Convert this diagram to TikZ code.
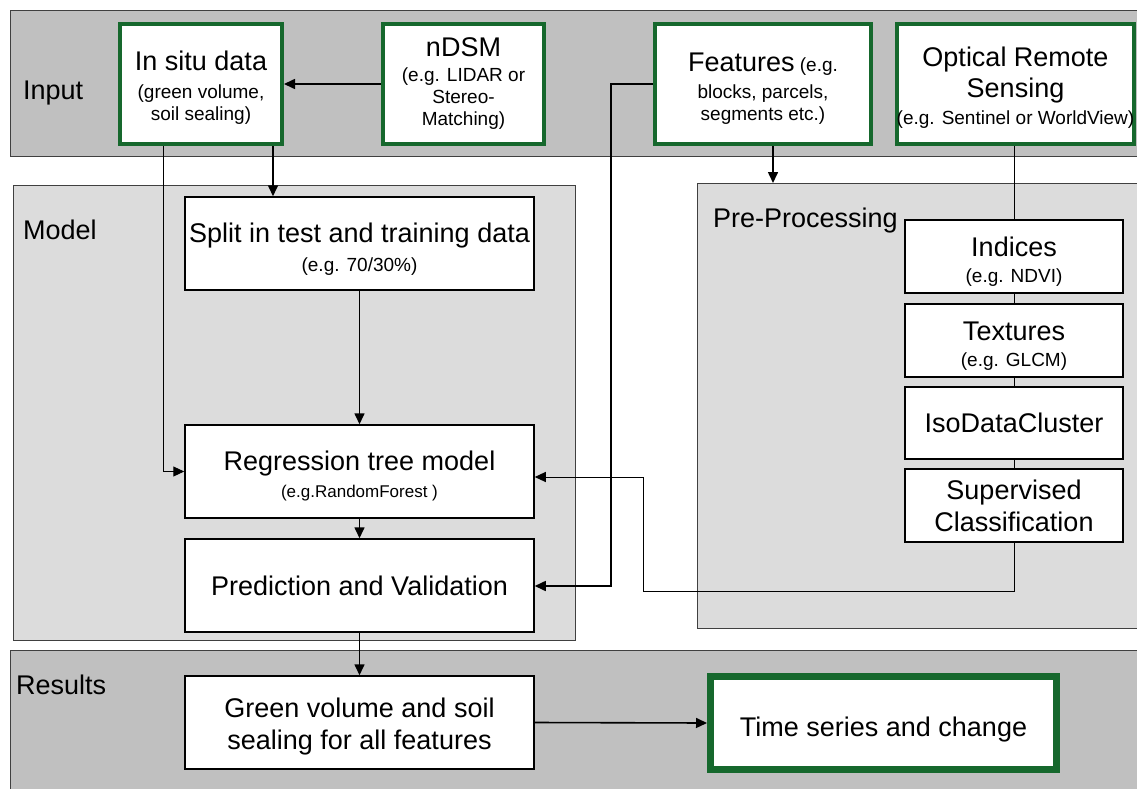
\documentclass[tikz,border=0pt]{standalone}
\usepackage{fontspec}
\setmainfont{Liberation Sans}
\usetikzlibrary{arrows.meta,calc}
\definecolor{grn}{RGB}{22,104,45}
\definecolor{bandA}{RGB}{192,192,192}
\definecolor{bandB}{RGB}{220,220,220}
\newcommand{\bigf}{\fontsize{27}{32}\selectfont}
\newcommand{\smf}{\fontsize{19}{22}\selectfont}
\newcommand{\lift}[1]{\rule{0pt}{#1pt}}
\begin{document}
\begin{tikzpicture}[x=1pt,y=-1pt,
  band/.style={draw=black!75, line width=1pt, anchor=north west, inner sep=0pt},
  greenbox/.style={draw=grn, line width=4pt, fill=white, align=center, inner sep=0pt, font=\smf},
  plainbox/.style={draw=black, line width=1.5pt, fill=white, align=center, inner sep=0pt, font=\smf},
  arr/.style={line width=1.6pt, -{Triangle[length=11pt,width=10pt]}},
  thinarr/.style={line width=1pt, -{Triangle[length=11pt,width=10pt]}},
  thinline/.style={line width=1pt},
  lbl/.style={anchor=west, font=\bigf, inner sep=0pt}]
\useasboundingbox (0,0) rectangle (1137,789);
\fill[white] (0,0) rectangle (1137,789);
% bands
\node[band, fill=bandA, minimum width=1140pt, minimum height=146pt] (inputband) at (10,10) {};
\node[band, fill=bandB, minimum width=562pt, minimum height=455pt] (modelband) at (13,185) {};
\node[band, fill=bandB, minimum width=450pt, minimum height=445pt] (preproc) at (697,183) {};
\node[band, fill=bandA, minimum width=1140pt, minimum height=150pt] (resultsband) at (10,650) {};
% band labels
\node[lbl] (inputlbl) at (23,93) {Input};
\node[lbl] (modellbl) at (23,230) {Model};
\node[lbl] (prelbl) at (713,221) {Pre-Processing};
\node[lbl] (reslbl) at (16,685) {Results};
% input boxes
\node[greenbox, minimum width=162pt, minimum height=120pt] (insitu) at (201,84)
  {{\bigf\lift{26}In situ data}\\[6pt](green volume,\\soil sealing)};
\node[greenbox, minimum width=161pt, minimum height=120pt] (ndsm) at (463.5,84)
  {{\bigf nDSM}\\[3pt](e.g. LIDAR or\\Stereo-\\Matching)};
\node[greenbox, minimum width=216pt, minimum height=120pt] (features) at (763,84)
  {{\bigf\lift{27}Features} (e.g.\\[5pt]blocks, parcels,\\segments etc.)};
\node[greenbox, minimum width=233pt, minimum height=120pt] (optical) at (1015.5,84)
  {{\bigf\lift{27}Optical Remote}\\[4pt]{\bigf Sensing}\\[5pt](e.g. Sentinel or WorldView)};
% model boxes
\node[plainbox, minimum width=349pt, minimum height=93pt] (split) at (359.5,243.5)
  {{\bigf\lift{30}Split in test and training data}\\[7pt](e.g. 70/30\%)};
\node[plainbox, minimum width=349pt, minimum height=93pt] (regression) at (359.5,471.5)
  {{\bigf\lift{28}Regression tree model}\\[5pt]{\fontsize{17}{20}\selectfont (e.g.RandomForest )}};
\node[plainbox, minimum width=349pt, minimum height=93pt, font=\bigf] (prediction) at (359.5,585.5)
  {Prediction and Validation};
% pre-processing boxes
\node[plainbox, minimum width=218pt, minimum height=73pt] (indices) at (1014,256.5)
  {{\bigf\lift{30}Indices}\\[4pt](e.g. NDVI)};
\node[plainbox, minimum width=218pt, minimum height=73pt] (textures) at (1014,340.5)
  {{\bigf\lift{30}Textures}\\[4pt](e.g. GLCM)};
\node[plainbox, minimum width=218pt, minimum height=72pt, font=\bigf] (isodata) at (1014,423)
  {IsoDataCluster};
\node[plainbox, minimum width=218pt, minimum height=73pt, font=\bigf] (supervised) at (1014,505.5)
  {Supervised\\Classification};
% results boxes
\node[plainbox, minimum width=349pt, minimum height=93pt, font=\bigf] (greenvol) at (359.5,722.5)
  {\lift{27}Green volume and soil\\sealing for all features};
\node[draw=grn, line width=7pt, fill=white, inner sep=0pt, minimum width=346pt, minimum height=93pt, font=\bigf] (timeseries) at (883.5,723)
  {\lift{32}Time series and change};
% connectors
\coordinate (fbend) at (611,586);
\coordinate (sbend1) at (1014,591);
\coordinate (sbend2) at (643,477);
\draw[arr] (ndsm.west) -- (insitu.east);
\draw[arr] ([xshift=-11pt]insitu.south east) -- ([xshift=-11pt]insitu.south east |- split.north);
\draw[thinarr] ([xshift=45pt]insitu.south west) |- (regression.west);
\draw[arr] (split.south) -- (regression.north);
\draw[arr] (regression.south) -- (prediction.north);
\draw[arr] (prediction.south) -- (greenvol.north);
\draw[arr] (greenvol.east) -- (timeseries.west);
\draw[arr] (features.west) -| (fbend) -- (fbend -| prediction.east);
\draw[arr] ([xshift=10pt]features.south) -- ([xshift=10pt]features.south |- preproc.north);
\draw[thinline] (optical.south -| indices.north) -- (indices.north);
\draw[thinline] (indices.south) -- (textures.north);
\draw[thinline] (textures.south) -- (isodata.north);
\draw[thinline] (isodata.south) -- (supervised.north);
\draw[thinarr] (supervised.south) -- (sbend1) -| (sbend2) -- (sbend2 -| regression.east);
\end{tikzpicture}
\end{document}
